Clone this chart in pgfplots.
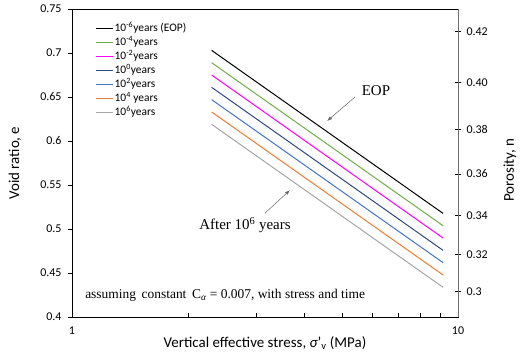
\documentclass[border=0pt]{standalone}
\usepackage{pgfplots}
\pgfplotsset{compat=1.18}
\usepackage{fontspec}
\setmainfont{Carlito}
\newfontfamily\tnr{Liberation Serif}
\usetikzlibrary{arrows.meta}
\definecolor{cgreen}{RGB}{112,173,71}
\definecolor{cmag}{RGB}{255,0,255}
\definecolor{cnavy}{RGB}{47,72,128}
\definecolor{cblue}{RGB}{68,114,196}
\definecolor{corange}{RGB}{237,125,49}
\definecolor{cgray}{RGB}{165,165,165}
\definecolor{axgray}{RGB}{110,110,110}
\begin{document}
\begin{tikzpicture}[x=1bp,y=1bp]
\begin{axis}[
  at={(0bp,0bp)}, anchor=south west,
  scale only axis, width=386bp, height=308bp,
  xmode=log, xmin=1, xmax=10, ymin=0.4, ymax=0.75,
  xtick={1,10}, xticklabels={1,10},
  ytick={0.4,0.45,0.5,0.55,0.6,0.65,0.7,0.75},
  yticklabels={0.4,0.45,0.5,0.55,0.6,0.65,0.7,0.75},
  xtick pos=left, ytick pos=left,
  tick align=inside,
  major tick length=4bp, minor tick length=4bp,
  major y tick style={xshift=-4bp},
  tick style={black, line width=0.6bp},
  axis line style={black, line width=0.8bp},
  ticklabel style={font=\fontsize{12}{14}\selectfont},
  yticklabel style={xshift=-7bp},
  xticklabel style={yshift=-6bp},
  xlabel={Vertical effective stress, {\itshape σ}’\textsubscript{v} (MPa)},
  ylabel={Void ratio, e},
  label style={font=\fontsize{15}{17}\selectfont},
  xlabel style={at={(axis description cs:0.5,-0.0844)}, anchor=center},
  ylabel style={at={(axis description cs:-0.1477,0.5)}, anchor=center, rotate=0},
  legend style={at={(axis description cs:0.06,0.955)}, anchor=north west,
    draw=none, fill=none, font=\fontsize{11.5}{12}\selectfont,
    row sep=3bp, inner sep=0pt,
    nodes={inner sep=0.5bp, text height=8bp, text depth=2bp, anchor=west}},
  legend cell align=left,
  legend image code/.code={\draw[#1, line width=1.8bp] (0bp,0bp) -- (17bp,0bp);},
  clip=false,
]
\addplot[black, line width=1bp] coordinates {(2.3,0.703) (9.15,0.5177)};
\addlegendentry{10\textsuperscript{-6}years (EOP)}
\addplot[cgreen, line width=1bp] coordinates {(2.3,0.689) (9.15,0.5037)};
\addlegendentry{10\textsuperscript{-4}years}
\addplot[cmag, line width=1bp] coordinates {(2.3,0.675) (9.15,0.4897)};
\addlegendentry{10\textsuperscript{-2}years}
\addplot[cnavy, line width=1bp] coordinates {(2.3,0.661) (9.15,0.4757)};
\addlegendentry{10\textsuperscript{0}years}
\addplot[cblue, line width=1bp] coordinates {(2.3,0.647) (9.15,0.4617)};
\addlegendentry{10\textsuperscript{2}years}
\addplot[corange, line width=1bp] coordinates {(2.3,0.633) (9.15,0.4477)};
\addlegendentry{10\textsuperscript{4} years}
\addplot[cgray, line width=1bp] coordinates {(2.3,0.619) (9.15,0.4337)};
\addlegendentry{10\textsuperscript{6}years}
\draw[gray!80!black, line width=0.5bp, -{Latex[length=5bp,width=3.5bp]}] (axis cs:5.41,0.650) -- (axis cs:4.58,0.6227);
\node[font=\tnr\fontsize{15}{17}\selectfont, anchor=center] at (axis cs:6.13,0.6568) {EOP};
\draw[gray!80!black, line width=0.5bp, -{Latex[length=5bp,width=3.5bp]}] (axis cs:3.162,0.518) -- (axis cs:3.671,0.5442);
\node[font=\tnr\fontsize{15}{17}\selectfont, anchor=center] at (axis cs:2.807,0.5043) {After 10\textsuperscript{6} years};
\node[font=\tnr\fontsize{13.5}{15}\selectfont, anchor=west, inner sep=0pt] at (axis cs:1.081,0.4246) {assuming\, constant\, C\textsubscript{\itshape α} = 0.007, with stress and time};
\end{axis}
\begin{axis}[
  at={(0bp,0bp)}, anchor=south west,
  scale only axis, width=386bp, height=308bp,
  xmode=log, xmin=1, xmax=10, ymin=0.4, ymax=0.75,
  axis x line=none, axis y line*=right,
  ytick={0.42857,0.47059,0.51515,0.5625,0.6129,0.66667,0.72414},
  yticklabels={0.3,0.32,0.34,0.36,0.38,0.40,0.42},
  tick align=center, major tick length=6bp,
  tick style={black, line width=0.8bp},
  axis line style={axgray, line width=1bp},
  ticklabel style={font=\fontsize{12}{14}\selectfont},
  yticklabel style={xshift=2bp},
  ylabel={Porosity, n},
  label style={font=\fontsize{15}{17}\selectfont},
  ylabel style={at={(axis description cs:1.1347,0.477)}, anchor=center, rotate=0},
]
\end{axis}
\pgfresetboundingbox
\path[use as bounding box] (-72bp,-39bp) rectangle (454bp,317bp);
\end{tikzpicture}
\end{document}
